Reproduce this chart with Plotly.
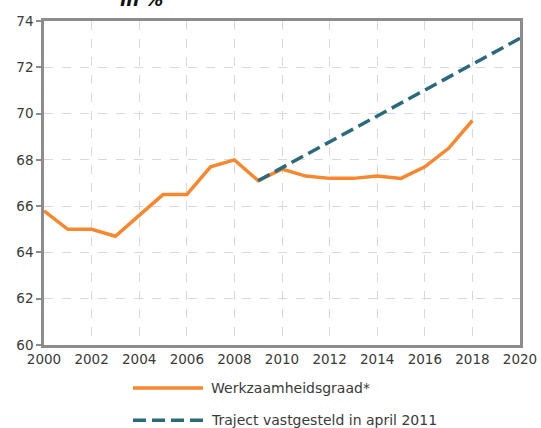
import plotly.graph_objects as go

years = list(range(2000, 2019))
werkzaamheid = [65.8, 65.0, 65.0, 64.7, 65.6, 66.5, 66.5, 67.7, 68.0, 67.1,
                67.6, 67.3, 67.2, 67.2, 67.3, 67.2, 67.7, 68.5, 69.7]
traject_years = [2009, 2020]
traject = [67.1, 73.25]

names = ["Werkzaamheidsgraad*", "Traject vastgesteld in april 2011"]

ORANGE = "#F7882F"
TEAL = "#2B6A7C"
AXIS = "#8C8C8C"
TEAL_DASH = "13px,6px"

fig = go.Figure()
fig.add_trace(
    go.Scatter(
        x=years,
        y=werkzaamheid,
        mode="lines",
        name=names[0],
        line={"color": ORANGE, "width": 3.5},
        showlegend=False,
    )
)
fig.add_trace(
    go.Scatter(
        x=traject_years,
        y=traject,
        mode="lines",
        name=names[1],
        line={"color": TEAL, "width": 3.5, "dash": TEAL_DASH},
        showlegend=False,
    )
)

# hand-made legend below the plot (longer samples than plotly's own legend)
legend_rows = [(-0.133, ORANGE, "solid"), (-0.232, TEAL, TEAL_DASH)]
for (ly, color, dash), label in zip(legend_rows, names):
    fig.add_shape(
        type="line",
        xref="paper",
        yref="paper",
        x0=0.187,
        x1=0.334,
        y0=ly,
        y1=ly,
        line={"color": color, "width": 3.5, "dash": dash},
    )
    fig.add_annotation(
        xref="paper",
        yref="paper",
        x=0.347,
        y=ly,
        xanchor="left",
        yanchor="middle",
        text=label,
        showarrow=False,
        font={"size": 14, "color": "#3A3A3A"},
    )

grid = {"showgrid": True, "gridcolor": "#D9D9D9", "gridwidth": 1, "griddash": "dash"}
fig.update_xaxes(
    range=[2000, 2020],
    tickmode="array",
    tickvals=list(range(2000, 2021, 2)),
    showline=True,
    linecolor=AXIS,
    linewidth=2.5,
    mirror=True,
    ticks="",
    zeroline=False,
    fixedrange=True,
    automargin=False,
    **grid,
)
fig.update_yaxes(
    range=[60, 74],
    tickmode="array",
    tickvals=list(range(60, 75, 2)),
    showline=True,
    linecolor=AXIS,
    linewidth=2.5,
    mirror=True,
    ticks="outside",
    ticklen=5,
    tickcolor=AXIS,
    tickwidth=2,
    zeroline=False,
    fixedrange=True,
    automargin=False,
    **grid,
)
fig.update_layout(
    width=541,
    height=428,
    margin={"l": 44, "r": 21, "t": 21, "b": 83},
    paper_bgcolor="white",
    plot_bgcolor="white",
    font={"family": "DejaVu Sans", "size": 13.5, "color": "#3A3A3A"},
    showlegend=False,
    title={
        "text": "<b><i>in %</i></b>",
        "x": 0.262,
        "xanchor": "center",
        "xref": "container",
        "y": 1.0,
        "yref": "container",
        "yanchor": "middle",
        "font": {"size": 18, "color": "#111111"},
    },
)

# drop the browser's default body margin so the figure sits at the page corner
fig.write_html(
    "out.html",
    config={"displayModeBar": False},
    post_script="document.body.style.margin = '0';",
)
